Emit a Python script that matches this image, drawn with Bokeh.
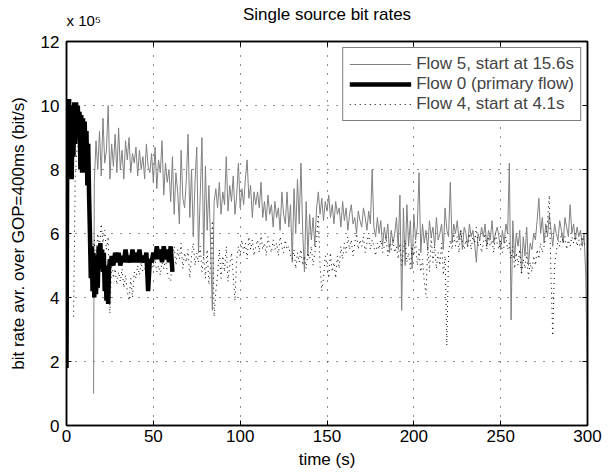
import numpy as np
from bokeh.plotting import figure
from bokeh.models import (Range1d, LinearAxis, FixedTicker, Legend, LegendItem,
                          Title, CustomLabelingPolicy)
from bokeh.embed import file_html
from bokeh.resources import INLINE

# ---------------- data (rates in units of 10^5 bit/s) ----------------
title_text = "Single source bit rates"
scale_text = "x 10\u2075"
x_label = "time (s)"
y_label = "bit rate avr. over GOP=400ms (bit/s)"
x_ticks = [0, 50, 100, 150, 200, 250, 300]
y_ticks = [0, 2, 4, 6, 8, 10, 12]

label5 = "Flow 5, start at 15.6s"
label0 = "Flow 0 (primary flow)"
label4 = "Flow 4, start at 4.1s"

# Flow 5: sample times and values
t5 = [15.6] + list(range(16, 300)) + [300]
flow5 = [1.0,
         7.6, 8.9, 8.0, 9.2,
         7.8, 9.6, 8.2, 8.6, 10.0, 7.7, 8.8, 8.1, 9.1, 7.9,
         9.3, 8.0, 8.6, 7.7, 8.9, 8.3, 9.0, 7.9, 8.5, 8.2,
         8.7, 7.8, 8.6, 8.0, 8.4, 7.7, 8.8, 8.1, 7.9, 8.5,
         7.6, 8.7, 7.4, 8.3, 7.9, 8.9, 7.2, 8.2, 7.6, 8.0,
         7.0, 8.4, 6.6, 7.9, 7.3, 6.3, 8.6, 7.1, 6.8, 7.7,
         9.1, 6.5, 8.0, 5.9, 7.6, 8.7, 5.4, 7.2, 9.0, 5.3,
         8.1, 6.1, 7.5, 5.6, 3.6, 7.0, 7.4, 6.8, 7.6, 6.6,
         7.3, 6.9, 8.4, 6.7, 7.5, 7.0, 7.8, 6.6, 7.2, 8.2,
         6.8, 7.4, 6.9, 7.7, 8.3, 7.1, 7.5, 6.5, 7.3, 6.9,
         7.3, 6.8, 7.6, 6.5, 7.0, 6.4, 7.2, 6.6, 6.9, 6.2,
         7.0, 6.5, 6.8, 6.1, 7.3, 6.6, 6.3, 7.3, 6.2, 6.9,
         5.1, 7.4, 6.0, 7.7, 6.3, 8.2, 6.1, 4.8, 7.0, 5.3,
         6.6, 5.8, 6.5, 5.6, 6.8, 7.3, 6.6, 7.1, 6.4, 7.0,
         6.7, 7.2, 6.5, 6.9, 6.3, 7.0, 6.6, 6.8, 6.2, 7.0,
         6.4, 6.8, 6.1, 6.6, 6.9, 6.3, 6.5, 6.0, 6.7, 6.4,
         6.2, 6.8, 6.5, 6.1, 6.7, 6.3, 8.0, 6.2, 5.9, 6.5,
         6.0, 6.4, 5.6, 6.2, 5.8, 6.3, 5.4, 6.1, 5.7, 6.0,
         6.5, 5.5, 7.2, 3.6, 6.8, 5.0, 6.9, 5.6, 6.4, 4.9,
         6.6, 5.8, 6.2, 7.9, 5.4, 6.3, 5.7, 6.1, 5.5, 6.4,
         5.9, 6.2, 5.6, 6.5, 5.8, 6.0, 6.3, 5.5, 6.8, 6.1,
         5.9, 7.6, 5.7, 6.3, 6.0, 6.4, 5.8, 6.1, 5.5, 6.2,
         6.0, 5.6, 6.3, 5.9, 6.1, 5.7, 5.1, 6.0, 5.8, 6.2,
         5.9, 6.3, 5.6, 6.1, 5.8, 6.4, 5.7, 6.0, 6.2, 5.9,
         5.5, 6.1, 5.7, 6.3, 6.0, 8.2, 3.3, 6.4, 5.2, 6.0,
         5.6, 6.1, 4.8, 5.9, 5.3, 6.2, 5.0, 5.7, 5.5, 6.0,
         5.8, 6.4, 7.1, 6.0, 6.5, 5.7, 6.3, 5.9, 6.6, 6.1,
         5.6, 6.3, 6.0, 5.8, 6.4, 6.1, 5.7, 6.5, 6.2, 5.9,
         6.9, 6.0, 6.3, 5.8, 6.2, 5.9, 6.1, 5.6, 6.0, 4.7,
         1.0]

# Flow 0 (primary): 0.5 s samples up to 25.5 s, then 1 s samples
t0 = list(np.arange(0.0, 26.0, 0.5)) + list(range(26, 62))
flow0 = [1.8, 10.1, 8.2, 10.2, 7.8, 9.9, 7.7, 10.0, 8.4, 10.1,
         8.8, 10.1, 9.0, 10.0, 9.1, 9.8, 8.0, 9.7, 7.9, 9.6,
         8.1, 9.5, 7.9, 9.2, 7.5, 8.8, 7.2, 6.0, 4.6, 5.6,
         4.2, 5.4, 4.0, 5.3, 4.1, 5.0, 4.3, 5.6, 4.9, 5.7,
         5.0, 5.5, 4.8, 5.4, 4.2, 5.0, 3.9, 4.6, 3.8, 4.9,
         5.2, 5.0,
         5.3, 5.0, 5.4, 5.1, 5.4, 5.0, 5.3, 5.1, 5.5, 5.1,
         5.3, 5.1, 5.5, 5.1, 5.4, 5.1, 5.5, 5.1, 5.3, 5.1,
         5.4, 4.2, 5.2, 5.1, 5.4, 5.2, 5.6, 5.2, 5.5, 5.1,
         5.6, 5.2, 5.5, 5.1, 5.6, 4.8]

# Flow 4
t4 = [4.1] + list(range(5, 300))
flow4 = [3.4,
         7.8, 8.6, 8.8, 9.2, 8.5,
         9.0, 8.4, 8.7, 7.5, 6.2, 5.2, 5.8, 5.0, 6.0, 5.6,
         6.3, 5.7, 6.1, 5.5, 5.9, 3.5, 5.2, 4.6, 4.9, 4.4,
         4.8, 4.5, 4.9, 4.3, 4.7, 4.2, 3.9, 4.6, 4.0, 4.8,
         4.6, 5.0, 4.7, 5.1, 4.8, 4.9, 4.6, 5.0, 4.7, 5.1,
         4.9, 5.2, 4.8, 5.0, 4.7, 5.1, 4.9, 5.2, 4.8, 4.6,
         4.5, 5.3, 5.6, 5.0, 5.5, 5.2, 5.7, 4.9, 5.4, 5.1,
         5.5, 4.6, 5.3, 5.7, 5.0, 5.4, 5.1, 5.6, 4.8, 5.3,
         4.6, 5.5, 4.4, 5.0, 6.4, 3.4, 4.2, 4.7, 5.5, 4.6,
         5.3, 4.8, 5.6, 4.5, 5.0, 5.4, 4.7, 3.9, 5.2, 5.6,
         5.3, 5.8, 5.4, 5.7, 5.2, 5.9, 5.5, 5.8, 5.3, 5.6,
         5.8, 5.4, 6.0, 5.5, 5.7, 5.3, 5.9, 5.6, 5.4, 5.8,
         5.5, 5.7, 5.3, 5.9, 5.6, 5.4, 5.8, 5.5, 5.6, 5.3,
         5.2, 5.5, 4.9, 5.4, 5.1, 5.5, 5.0, 5.3, 4.9, 5.4,
         5.2, 5.6, 5.0, 5.4, 5.8, 6.6, 5.0, 4.2, 4.6, 5.3,
         5.0, 4.6, 5.4, 4.8, 5.1, 4.6, 5.3, 4.9, 5.6, 5.2,
         5.7, 5.4, 5.9, 5.5, 5.8, 5.3, 5.7, 6.0, 5.5, 5.8,
         5.6, 5.9, 5.4, 5.7, 6.0, 5.5, 5.8, 5.6, 5.3, 5.7,
         5.5, 5.8, 5.4, 5.6, 5.9, 5.3, 5.7, 5.5, 5.8, 5.4,
         5.6, 5.2, 5.7, 5.0, 5.5, 5.8, 5.1, 5.4, 4.9, 5.6,
         5.3, 5.8, 5.0, 5.5, 4.8, 5.2, 4.5, 4.1, 5.6, 4.8,
         5.9, 5.1, 5.6, 4.9, 5.4, 5.0, 5.7, 4.7, 5.3, 2.5,
         5.4, 5.8, 5.5, 6.0, 5.6, 5.9, 5.4, 6.1, 5.7, 5.5,
         5.8, 5.6, 6.0, 5.5, 5.9, 5.7, 6.2, 5.6, 5.8, 5.4,
         5.7, 6.0, 5.5, 5.9, 5.6, 5.8, 5.4, 6.0, 5.7, 5.5,
         5.8, 5.4, 5.6, 5.9, 5.5, 5.7, 5.2, 5.6, 4.9, 5.4,
         5.0, 5.5, 4.7, 5.2, 4.9, 5.4, 4.6, 5.1, 4.8, 5.3,
         5.0, 5.5, 5.2, 5.7, 5.4, 5.6, 5.9, 6.4, 7.2, 4.6,
         2.8, 5.0, 5.4, 5.8, 5.6, 6.0, 5.7, 5.9, 5.5, 5.8,
         5.6, 5.9, 5.7, 6.0, 5.6, 5.8, 5.5, 5.9, 5.7, 5.6]

# ---------------- figure ----------------
FONT = "Liberation Sans"
FS = "17px"

p = figure(width=609, height=473, output_backend="svg", toolbar_location=None,
           x_range=Range1d(0, 300), y_range=Range1d(0, 12),
           min_border_left=66, min_border_right=22, min_border_top=41,
           min_border_bottom=48, background_fill_color="white",
           border_fill_color="white")

p.title.text = title_text
p.title.align = "center"
p.title.text_font = FONT
p.title.text_font_size = FS
p.title.text_font_style = "normal"
p.title.text_color = "black"
p.title.standoff = -46

p.outline_line_color = "black"
p.outline_line_width = 1.5

for ax, ticks in ((p.xaxis[0], x_ticks), (p.yaxis[0], y_ticks)):
    ax.ticker = FixedTicker(ticks=ticks, minor_ticks=[])
    ax.major_tick_in = 5
    ax.major_tick_out = 0
    ax.major_tick_line_color = "black"
    ax.axis_line_color = "black"
    ax.axis_line_width = 1.5
    ax.major_label_text_font = FONT
    ax.major_label_text_font_size = FS
    ax.major_label_text_color = "black"
    ax.axis_label_text_font = FONT
    ax.axis_label_text_font_size = FS
    ax.axis_label_text_font_style = "normal"
    ax.axis_label_text_color = "black"

p.xaxis[0].axis_label = x_label
p.xaxis[0].major_label_standoff = 4
p.xaxis[0].axis_label_standoff = 5
p.yaxis[0].axis_label = y_label
p.yaxis[0].major_label_standoff = 7
p.yaxis[0].axis_label_standoff = 10

no_labels = CustomLabelingPolicy(code="""
const all = [];
for (const i of indices) all.push(i);
for (const i of all) indices.unset(i);
return indices;
""")

for side, ticks in (("right", y_ticks), ("above", x_ticks)):
    ax = LinearAxis(ticker=FixedTicker(ticks=ticks, minor_ticks=[]),
                    major_tick_in=5, major_tick_out=0,
                    major_label_text_font_size="0px", major_label_standoff=0,
                    major_label_policy=no_labels,
                    axis_line_color="black", axis_line_width=1.5,
                    major_tick_line_color="black")
    p.add_layout(ax, side)

# exponent annotation for the y axis ("x 10^5"), left-aligned above the frame
p.add_layout(Title(text=scale_text, align="left", vertical_align="top",
                   text_font=FONT, text_font_size="15px",
                   text_font_style="normal", text_color="black",
                   standoff=22, offset=0), "above")

for g in (p.xgrid[0], p.ygrid[0]):
    g.grid_line_color = "black"
    g.grid_line_dash = "1 8"
    g.grid_line_width = 1
    g.grid_line_alpha = 0.9

r5 = p.line(t5, flow5, line_color="#808080", line_width=1)
r0 = p.line(t0, flow0, line_color="black", line_width=4.5)
r4 = p.line(t4, flow4, line_color="black", line_width=1, line_dash="1 4")

legend = Legend(items=[LegendItem(label=label5, renderers=[r5]),
                       LegendItem(label=label0, renderers=[r0]),
                       LegendItem(label=label4, renderers=[r4])],
                location="top_right", margin=6, padding=6, spacing=0,
                label_text_font=FONT, label_text_font_size=FS,
                label_height=20, glyph_width=62, glyph_height=20,
                label_standoff=5, border_line_color="black",
                border_line_width=1.5, background_fill_color="white",
                background_fill_alpha=1.0)
p.add_layout(legend)

open("out.html", "w").write(file_html(p, INLINE))
